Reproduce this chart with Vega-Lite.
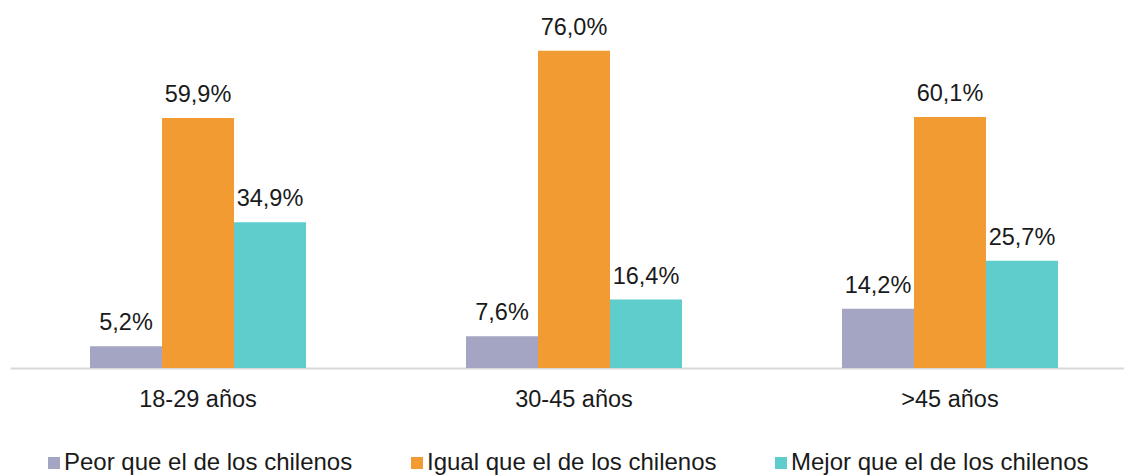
{
  "$schema": "https://vega.github.io/schema/vega-lite/v6.json",
  "width": 1114,
  "height": 334,
  "autosize": {"type": "none"},
  "padding": {"left": 10, "top": 34, "right": 0, "bottom": 107},
  "background": "white",
  "config": {
    "view": {"stroke": null},
    "font": "Liberation Sans",
    "locale": {"number": {"decimal": ",", "thousands": ".", "grouping": [3], "currency": ["", " €"]}}
  },
  "data": {
    "values": [
      {"grupo": "18-29 años", "serie": "Peor que el de los chilenos", "valor": 0.052},
      {"grupo": "18-29 años", "serie": "Igual que el de los chilenos", "valor": 0.599},
      {"grupo": "18-29 años", "serie": "Mejor que el de los chilenos", "valor": 0.349},
      {"grupo": "30-45 años", "serie": "Peor que el de los chilenos", "valor": 0.076},
      {"grupo": "30-45 años", "serie": "Igual que el de los chilenos", "valor": 0.760},
      {"grupo": "30-45 años", "serie": "Mejor que el de los chilenos", "valor": 0.164},
      {"grupo": ">45 años", "serie": "Peor que el de los chilenos", "valor": 0.142},
      {"grupo": ">45 años", "serie": "Igual que el de los chilenos", "valor": 0.601},
      {"grupo": ">45 años", "serie": "Mejor que el de los chilenos", "valor": 0.257}
    ]
  },
  "encoding": {
    "x": {
      "field": "grupo",
      "type": "nominal",
      "sort": ["18-29 años", "30-45 años", ">45 años"],
      "scale": {"range": [0, 1128], "paddingInner": 0.4255, "paddingOuter": 0.2128},
      "axis": {
        "title": null,
        "labelAngle": 0,
        "labelFontSize": 23.5,
        "labelColor": "#1a1a1a",
        "labelBaseline": "alphabetic",
        "labelPadding": 38,
        "ticks": false,
        "domainColor": "#d9d9d9",
        "domainWidth": 2,
        "grid": false
      }
    },
    "xOffset": {
      "field": "serie",
      "type": "nominal",
      "sort": ["Peor que el de los chilenos", "Igual que el de los chilenos", "Mejor que el de los chilenos"],
      "scale": {"paddingInner": 0, "paddingOuter": 0}
    },
    "y": {
      "field": "valor",
      "type": "quantitative",
      "scale": {"domain": [0, 0.8], "nice": false},
      "axis": null
    }
  },
  "layer": [
    {
      "mark": {"type": "bar"},
      "encoding": {
        "color": {
          "field": "serie",
          "type": "nominal",
          "sort": ["Peor que el de los chilenos", "Igual que el de los chilenos", "Mejor que el de los chilenos"],
          "scale": {"range": ["#a4a4c3", "#f19b32", "#5ecdcc"]},
          "legend": {
            "title": null,
            "orient": "none",
            "direction": "horizontal",
            "legendX": 32,
            "legendY": 417,
            "padding": 0,
            "symbolType": "square",
            "symbolSize": 144,
            "symbolStrokeWidth": 0,
            "symbolOpacity": 1,
            "labelFontSize": 24,
            "labelColor": "#1a1a1a",
            "labelOffset": -2,
            "labelLimit": 400,
            "columnPadding": 52
          }
        }
      }
    },
    {
      "mark": {"type": "text", "baseline": "alphabetic", "dy": -16, "fontSize": 23.5, "color": "#1a1a1a"},
      "encoding": {
        "text": {"field": "valor", "type": "quantitative", "format": ".1%"}
      }
    }
  ]
}
